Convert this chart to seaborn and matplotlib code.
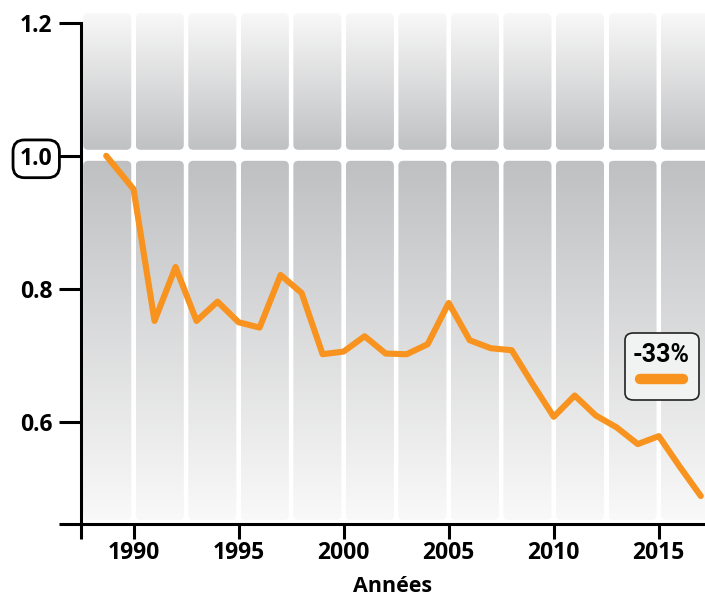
import numpy as np
import pandas as pd
import matplotlib
matplotlib.use("Agg")
import matplotlib.pyplot as plt
import seaborn as sns
from matplotlib.patches import FancyBboxPatch
from matplotlib.lines import Line2D
from matplotlib.colors import LinearSegmentedColormap
from matplotlib import font_manager

# Series (index, first year = 1.0)
years = [1988.7] + list(range(1990, 2018))
values = [1.0, 0.95, 0.752, 0.833, 0.752, 0.781, 0.75, 0.742, 0.821, 0.794,
          0.702, 0.706, 0.729, 0.703, 0.702, 0.717, 0.779, 0.723, 0.711, 0.708,
          0.657, 0.608, 0.640, 0.610, 0.592, 0.567, 0.579, 0.533, 0.489]
x_ticks = [1990, 1995, 2000, 2005, 2010, 2015]
y_ticks = [0.6, 0.8, 1.0, 1.2]
y_tick_labels = ["0.6", "0.8", "1.0", "1.2"]
x_label = "Années"
change_label = "-33%"

LINE_COLOR = "#F7931E"
X_MIN, X_MAX = 1987.5, 2017.2
Y_MIN, Y_MAX = 0.447, 1.222

sns.set_theme(style="white")
plt.rcParams["font.family"] = ["Open Sans", "DejaVu Sans"]

names = {f.name for f in font_manager.fontManager.ttflist}
narrow = "Liberation Sans Narrow" if "Liberation Sans Narrow" in names else "Roboto"

fig = plt.figure(figsize=(7.05, 5.96), dpi=100)
ax = fig.add_axes([81 / 705, 72 / 596, 1 - 81 / 705, (524 - 8) / 596])
ax.set_xlim(X_MIN, X_MAX)
ax.set_ylim(Y_MIN, Y_MAX)

# Gradient background panels (columns every 2.5 years, split at 1.0)
upper_cmap = LinearSegmentedColormap.from_list("up", ["#c0c1c3", "#f8f8f8"])
lower_cmap = LinearSegmentedColormap.from_list("lo", ["#f9f9f9", "#bfc0c2"])
grad = np.linspace(0, 1, 256).reshape(-1, 1)
px_x = (X_MAX - X_MIN) / 624.0
px_y = (Y_MAX - Y_MIN) / 516.0
gap_x = 4.5 * px_x
aspect = px_y / px_x
bands = [(1.0 + 6 * px_y, 1.214, upper_cmap),
         (0.453, 1.0 - 5 * px_y, lower_cmap)]
edges = np.arange(1987.5, 2020.0, 2.5)
for x0 in edges[:-1]:
    xa, xb = x0 + gap_x / 2, x0 + 2.5 - gap_x / 2
    for ya, yb, cmap in bands:
        patch = FancyBboxPatch((xa, ya), xb - xa, yb - ya,
                               boxstyle="round,pad=0,rounding_size=%f" % (5 * px_x),
                               mutation_aspect=aspect, fc="none", ec="none",
                               transform=ax.transData, zorder=0)
        ax.add_patch(patch)
        im = ax.imshow(grad, extent=(xa, xb, ya, yb), origin="lower", cmap=cmap,
                       aspect="auto", interpolation="bilinear", zorder=0)
        im.set_clip_path(patch)
ax.set_xlim(X_MIN, X_MAX)
ax.set_ylim(Y_MIN, Y_MAX)

# Main series
df = pd.DataFrame({"year": years, "value": values})
sns.lineplot(data=df, x="year", y="value", ax=ax, color=LINE_COLOR, lw=4.4,
             solid_capstyle="round", solid_joinstyle="round", zorder=3)

# Spines and ticks
for s in ["top", "right"]:
    ax.spines[s].set_visible(False)
for s in ["left", "bottom"]:
    ax.spines[s].set_color("black")
    ax.spines[s].set_linewidth(2.2)
ax.spines["left"].set_bounds(Y_MIN, 1.2)

ax.set_xticks([X_MIN] + x_ticks)
ax.set_xticklabels([""] + [str(t) for t in x_ticks])
ax.set_yticks([Y_MIN] + y_ticks)
ax.set_yticklabels([""] + y_tick_labels)
ax.tick_params(axis="x", bottom=True, direction="out", length=10.5, width=2.2,
               color="black", pad=2, labelsize=16.5, labelcolor="black")
ax.tick_params(axis="y", left=True, direction="out", length=15.5, width=2.2,
               color="black", pad=5, labelsize=16.5, labelcolor="black")
for lab in ax.get_xticklabels() + ax.get_yticklabels():
    lab.set_fontweight("bold")
ax.set_xlabel(x_label, fontsize=15.5, fontweight="bold", color="black", labelpad=8)
ax.set_ylabel("")
ax.grid(False)

# Boxed 1.0 tick label
for lab in ax.get_yticklabels():
    if lab.get_text() == "1.0":
        lab.set_bbox(dict(boxstyle="round,pad=0.3,rounding_size=0.5",
                          fc="white", ec="black", lw=2.0))

# Legend box with the overall change
leg_box = FancyBboxPatch((625 / 705, 1 - 400 / 596), 74 / 705, 67 / 596,
                         boxstyle="round,pad=0,rounding_size=0.012",
                         transform=fig.transFigure, fc="#f1f2f2", ec="#222222",
                         lw=1.2, zorder=5)
fig.patches.append(leg_box)
fig.text(661.5 / 705, 1 - 355 / 596, change_label, ha="center", va="center",
         fontsize=18, fontweight="bold", color="black",
         family=[narrow, "DejaVu Sans"], zorder=6)
fig.lines.append(Line2D([640 / 705, 683 / 705], [1 - 379 / 596, 1 - 379 / 596],
                        transform=fig.transFigure, color=LINE_COLOR, lw=7.5,
                        solid_capstyle="round", zorder=6))

fig.savefig("out.png", dpi=100)
